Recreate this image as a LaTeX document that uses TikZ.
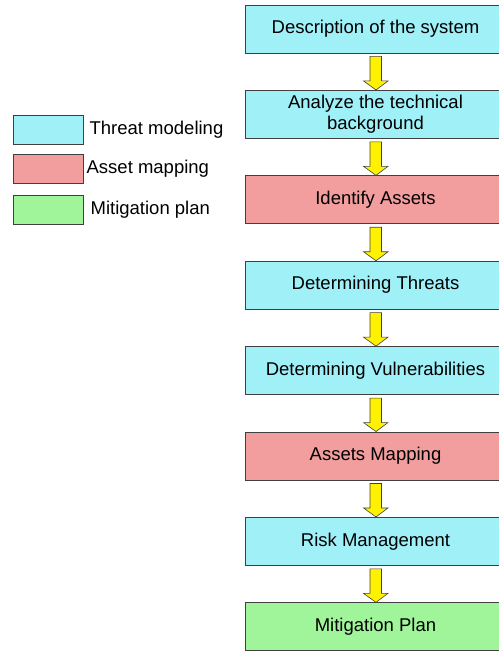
\documentclass[tikz,border=0pt]{standalone}
\usepackage{fontspec}
\setmainfont{Liberation Sans}
\usetikzlibrary{positioning,calc}
\definecolor{threatcol}{RGB}{160,240,248}
\definecolor{assetcol}{RGB}{242,158,158}
\definecolor{mitigcol}{RGB}{160,245,155}
\tikzset{
  stepbox/.style={draw=black!75, line width=0.9pt, minimum width=261pt, minimum height=48pt, inner sep=2pt, align=center, font=\fontsize{18.5}{21}\selectfont},
  keybox/.style={draw=black!75, line width=0.9pt, minimum width=70pt, minimum height=29pt, inner sep=0pt},
  keytext/.style={font=\fontsize{18.5}{21}\selectfont, anchor=west, inner sep=0pt},
}
\def\blockarrow(#1)(#2){\draw[fill=yellow, draw=black!75, line width=0.6pt]
  ($(#1.south)+(-4.5,-3)$) -- ++(-1,0) -- ($(#2.north)+(-5.5,9)$) -- ++(-6.5,0) -- ($(#2.north)+(0.5,0)$)
  -- ($(#2.north)+(12.5,9)$) -- ++(-6.5,0) -- ($(#1.south)+(6,-3)$) -- cycle;}

\begin{document}
\begin{tikzpicture}[x=1pt, y=1pt, node distance=36.5pt]
				%%%%% START %%%%%
				\useasboundingbox (0,0) rectangle (498,-652);

				\node[stepbox, fill=threatcol] (descr) at (375.5,-29) {Description of the system};
				\node[stepbox, fill=threatcol, below=of descr] (analyze) {Analyze the technical\\background};
				\node[stepbox, fill=assetcol, below=of analyze] (ident) {Identify Assets};
				\node[stepbox, fill=threatcol, below=of ident] (threats) {Determining Threats};
				\node[stepbox, fill=threatcol, below=of threats] (vulner) {Determining Vulnerabilities};
				\node[stepbox, fill=assetcol, below=of vulner] (mapping) {Assets Mapping};
				\node[stepbox, fill=threatcol, below=of mapping] (risk) {Risk Management};
				\node[stepbox, fill=mitigcol, below=of risk] (mitig) {Mitigation Plan};

				\blockarrow(descr)(analyze);
				\blockarrow(analyze)(ident);
				\blockarrow(ident)(threats);
				\blockarrow(threats)(vulner);
				\blockarrow(vulner)(mapping);
				\blockarrow(mapping)(risk);
				\blockarrow(risk)(mitig);

				% legend
				\node[keybox, fill=threatcol] (kthreat) at (48,-130) {};
				\node[keybox, fill=assetcol] (kasset) at (48,-169) {};
				\node[keybox, fill=mitigcol] (kmitig) at (48,-210) {};
				\node[keytext, right=6pt of kthreat] (tthreat) {Threat modeling};
				\node[keytext, right=3pt of kasset] (tasset) {Asset mapping};
				\node[keytext, right=7pt of kmitig] (tmitig) {Mitigation plan};
				%%%%% END %%%%%
			\end{tikzpicture}
\end{document}
